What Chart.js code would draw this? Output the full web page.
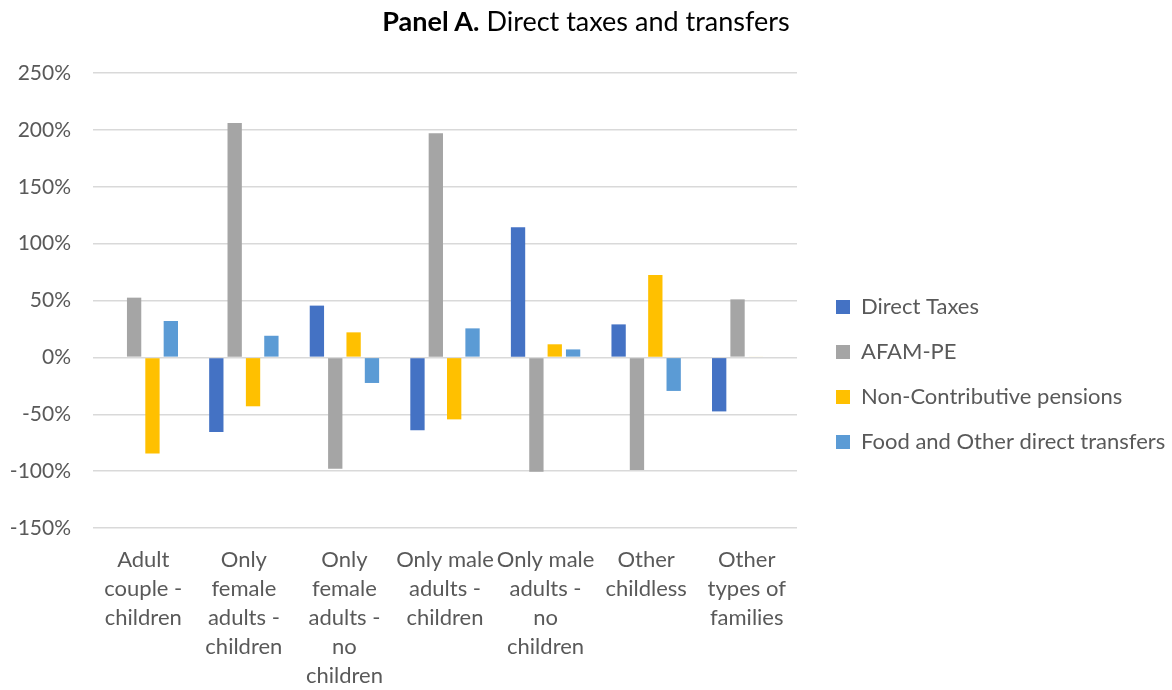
<!DOCTYPE html>
<html>
<head>
<meta charset="utf-8">
<script src="https://cdn.jsdelivr.net/npm/chart.js@4.4.1/dist/chart.umd.min.js"></script>
<style>
  html, body { margin: 0; padding: 0; background: #fff; }
  #wrap { position: relative; width: 1172px; height: 690px; }
  #title {
    position: absolute; left: 0; top: 4px; width: 1172px; text-align: center;
    font-family: Lato, "Open Sans", sans-serif; font-size: 27px; color: #000;
  }
  canvas { display: block; }
</style>
</head>
<body>
<div id="wrap">
  <canvas id="chart" width="1172" height="690"></canvas>
  <div id="title"><b>Panel A.</b> Direct taxes and transfers</div>
</div>
<script>
// categories (split into lines like the original axis labels)
const categories = [
    ["Adult", "couple -", "children"],
    ["Only", "female", "adults -", "children"],
    ["Only", "female", "adults -", "no", "children"],
    ["Only male", "adults -", "children"],
    ["Only male", "adults -", "no", "children"],
    ["Other", "childless"],
    ["Other", "types of", "families"]
];

// series values in %
const directTaxes = [0, -65.5, 45.5, -64, 114.5, 29, -47.5];
const afamPe = [52.5, 206, -98, 197, -100.5, -99, 51];
const nonContributive = [-84.5, -43, 22, -54.5, 11.5, 72.5, 0.7];
const foodOther = [32, 19, -22.5, 25.5, 7, -29.5, 0];

const fontFamily = "Lato, 'Open Sans', sans-serif";

// fix the legend width and nudge it, like the original layout
const legendLayout = {
    id: "legendLayout",
    afterInit(chart) {
        const legend = chart.legend;
        const fit = legend.fit;
        legend.fit = function () {
            fit.call(this);
            this.width = 375;
        };
    },
    afterLayout(chart) {
        const l = chart.legend;
        l.left += 16;
        l.right += 16;
        l.top -= 7;
        l.bottom -= 7;
    }
};

const ctx = document.getElementById("chart").getContext("2d");
const chart = new Chart(ctx, {
    type: "bar",
    data: {
        labels: categories,
        datasets: [
            { label: "Direct Taxes", data: directTaxes, backgroundColor: "#4472C4" },
            { label: "AFAM-PE", data: afamPe, backgroundColor: "#A5A5A5" },
            { label: "Non-Contributive pensions", data: nonContributive, backgroundColor: "#FFC000" },
            { label: "Food and Other direct transfers", data: foodOther, backgroundColor: "#5B9BD5" }
        ]
    },
    options: {
        responsive: false,
        animation: false,
        layout: { padding: { top: 73, bottom: 0, left: 0, right: 0 } },
        datasets: {
            bar: { barPercentage: 0.78, categoryPercentage: 0.73 }
        },
        scales: {
            x: {
                grid: { display: false },
                border: { display: false },
                ticks: {
                    color: "#595959",
                    font: { family: fontFamily, size: 22, lineHeight: 1.32 },
                    maxRotation: 0,
                    autoSkip: false,
                    padding: 9
                },
                afterFit: function (scale) { scale.height = 162; }
            },
            y: {
                min: -150,
                max: 250,
                grid: { color: "#D9D9D9", lineWidth: 1.5, drawTicks: false },
                border: { display: false },
                ticks: {
                    stepSize: 50,
                    color: "#595959",
                    font: { family: fontFamily, size: 21 },
                    padding: 22,
                    callback: function (v) { return v + "%"; }
                },
                afterFit: function (scale) { scale.width = 93; }
            }
        },
        plugins: {
            legend: {
                position: "right",
                labels: {
                    color: "#595959",
                    font: { family: fontFamily, size: 22 },
                    boxWidth: 14,
                    boxHeight: 14,
                    padding: 23
                }
            },
            tooltip: { enabled: false }
        }
    },
    plugins: [legendLayout]
});
</script>
</body>
</html>
